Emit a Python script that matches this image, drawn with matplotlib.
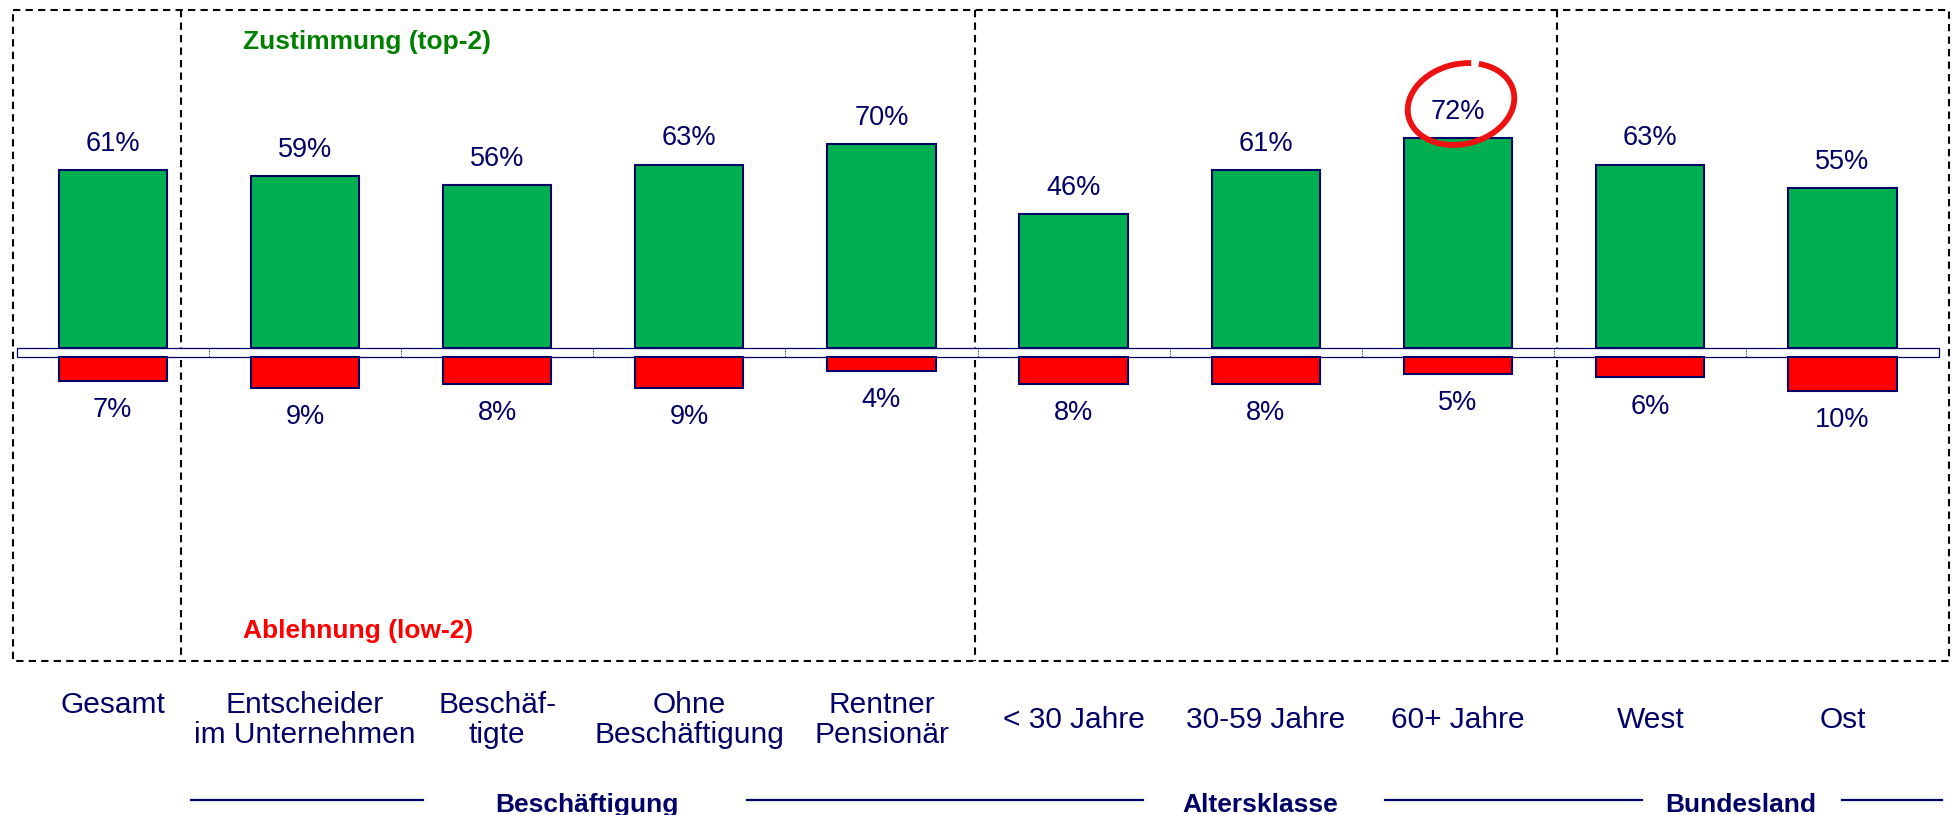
import numpy as np
import matplotlib
matplotlib.use('Agg')
import matplotlib.pyplot as plt
from matplotlib.patches import Rectangle, Arc

plt.rcParams['font.family'] = ['Liberation Sans', 'DejaVu Sans']

# data
categories = ['Gesamt\n', 'Entscheider\nim Unternehmen', 'Beschäf-\ntigte', 'Ohne\nBeschäftigung',
              'Rentner\nPensionär', '< 30 Jahre', '30-59 Jahre', '60+ Jahre', 'West', 'Ost']
zustimmung = [61, 59, 56, 63, 70, 46, 61, 72, 63, 55]
ablehnung = [7, 9, 8, 9, 4, 8, 8, 5, 6, 10]
groups = ['Beschäftigung', 'Altersklasse', 'Bundesland']
group_members = [(1, 4), (5, 7), (8, 9)]

NAVY = '#000066'
GREEN = '#00B050'
RED = '#FF0000'

x = np.arange(len(categories))
X0, X1 = -0.5864, 9.575
H = 815  # figure height in px

fig = plt.figure(figsize=(19.53, 8.15), dpi=100)

# background layer: boxes, strip, labels (x in category units, y in pixels from top)
bg = fig.add_axes([0, 0, 1, 1])
bg.set_xlim(X0, X1)
bg.set_ylim(H, 0)
bg.axis('off')

dash = (0, (3.5, 2.5))
bg.add_patch(Rectangle((-0.52, 10), 10.074, 651, fill=False, ls=dash, lw=1.5, ec='black'))
for xd in [0.353, 4.486, 7.515]:
    bg.plot([xd, xd], [10, 661], color='black', lw=1.5, ls=dash)

# zero strip
bg.add_patch(Rectangle((-0.5, 348), len(categories), 9, fc='white', ec=NAVY, lw=0.9, zorder=3))
for b in x[:-1] + 0.5:
    bg.plot([b, b], [348, 357], color=NAVY, lw=0.6, ls=(0, (1.5, 1.5)), zorder=4)

bg.text(0.678, 42, 'Zustimmung (top-2)', color='#008000', fontsize=19, fontweight='bold',
        ha='left', va='center')
bg.text(0.678, 631, 'Ablehnung (low-2)', color=RED, fontsize=19, fontweight='bold',
        ha='left', va='center')

for i, lab in enumerate(categories):
    bg.text(i, 720, lab, ha='center', va='center', fontsize=21.5, color=NAVY,
            linespacing=1.07)

for name, (a, b) in zip(groups, group_members):
    bg.text((a + b) / 2 - 0.03, 812, name, ha='center', va='baseline', fontsize=19,
            fontweight='bold', color=NAVY)
for s0, s1 in [(0.405, 1.617), (3.30, 5.36), (6.62, 7.955), (9.0, 9.52)]:
    bg.plot([s0, s1], [800, 800], color=NAVY, lw=1.6)

# green bars (agreement)
top = fig.add_axes([0, (H - 348) / H, 1, 338 / H])
top.set_xlim(X0, X1)
top.set_ylim(0, 338 / 2.91)
top.axis('off')
top.patch.set_visible(False)
top.bar(x, zustimmung, width=0.564, color=GREEN, edgecolor=NAVY, linewidth=1.5, clip_on=False)
for i, v in enumerate(zustimmung):
    top.annotate(f'{v}%', (i, v), xytext=(0, 19), textcoords='offset points',
                 ha='center', va='center', fontsize=19.5, color=NAVY)

# red bars (rejection), drawn downwards
bot = fig.add_axes([0, (H - 661) / H, 1, 304 / H])
bot.set_xlim(X0, X1)
bot.set_ylim(304 / 3.4, 0)
bot.axis('off')
bot.patch.set_visible(False)
bot.bar(x, ablehnung, width=0.564, color=RED, edgecolor=NAVY, linewidth=1.5, clip_on=False)
for i, v in enumerate(ablehnung):
    bot.annotate(f'{v}%', (i, v), xytext=(0, -21), textcoords='offset points',
                 ha='center', va='center', fontsize=19.5, color=NAVY)

# hand-drawn circle around the 60+ value
fig.add_artist(Arc((14.61, 7.11), 1.08, 0.80, angle=14, theta1=62, theta2=412,
                   lw=4.2, color='#EE1111', transform=fig.dpi_scale_trans))

fig.savefig('out.png', dpi=100)
